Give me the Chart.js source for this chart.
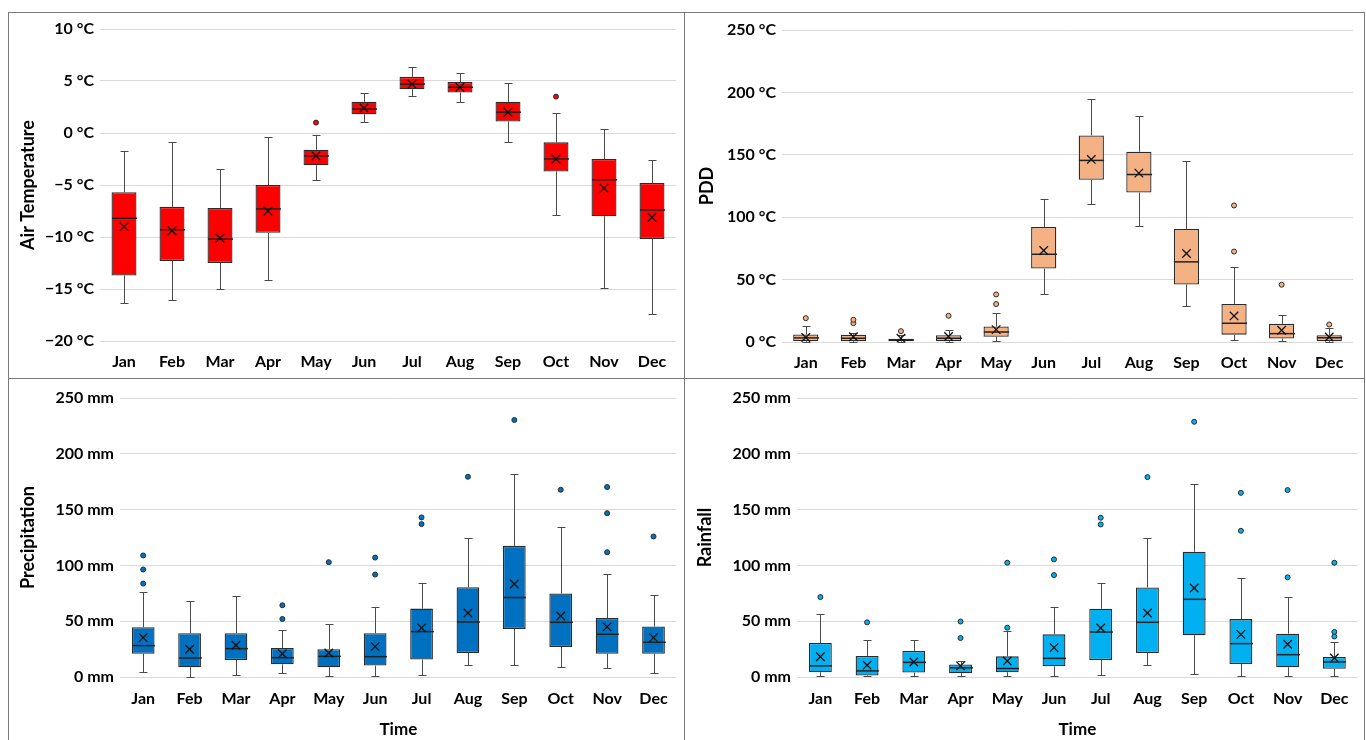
<!DOCTYPE html>
<html>
<head>
<meta charset="utf-8">
<script src="https://cdn.jsdelivr.net/npm/chart.js@4.4.1/dist/chart.umd.min.js"></script>
<style>
    body { margin: 0; background: #fff; width: 1366px; height: 740px; overflow: hidden; position: relative; }
    canvas { position: absolute; }
    .frame { position: absolute; left: 8px; top: 12px; width: 1357px; height: 740px; border: 1px solid #7a7a7a; box-sizing: border-box; }
    .vline { position: absolute; left: 684px; top: 12px; width: 1px; height: 728px; background: #7a7a7a; }
    .hline { position: absolute; left: 8px; top: 378px; width: 1357px; height: 1px; background: #7a7a7a; }
</style>
</head>
<body>
<div class="frame"></div>
<div class="vline"></div>
<div class="hline"></div>
<canvas id="temp-chart" width="675" height="365" style="left:9px;top:13px"></canvas>
<canvas id="pdd-chart" width="679" height="365" style="left:686px;top:13px"></canvas>
<canvas id="precip-chart" width="675" height="361" style="left:9px;top:379px"></canvas>
<canvas id="rain-chart" width="679" height="361" style="left:686px;top:379px"></canvas>
<script>
const months = ['Jan', 'Feb', 'Mar', 'Apr', 'May', 'Jun', 'Jul', 'Aug', 'Sep', 'Oct', 'Nov', 'Dec'];

// Air temperature (°C)
const tempMin    = [-16.3, -16.1, -15.0, -14.1, -4.5, 1.1, 3.6, 3.0, -0.9, -7.9, -14.9, -17.4];
const tempQ1     = [-13.7, -12.3, -12.5, -9.6, -3.1, 1.8, 4.2, 3.9, 1.1, -3.7, -8.0, -10.2];
const tempMedian = [-8.2, -9.3, -10.2, -7.3, -2.2, 2.3, 4.7, 4.4, 2.0, -2.5, -4.5, -7.4];
const tempQ3     = [-5.7, -7.1, -7.2, -5.0, -1.6, 3.0, 5.4, 4.9, 3.0, -0.9, -2.5, -4.8];
const tempMax    = [-1.7, -0.9, -3.5, -0.4, -0.2, 3.8, 6.3, 5.8, 4.8, 1.9, 0.4, -2.6];
const tempMean   = [-9.0, -9.4, -10.1, -7.5, -2.2, 2.4, 4.7, 4.4, 2.0, -2.5, -5.3, -8.1];
const tempOutliers = [[], [], [], [], [1.0], [], [], [], [], [3.5], [], []];

// Positive degree days (°C)
const pddMin    = [0, 0, 0, 0, 0.5, 38.8, 110.4, 92.8, 28.6, 1.3, 0.6, 0];
const pddQ1     = [0.6, 0.6, 0.6, 0.6, 4.2, 58.8, 130.0, 119.8, 46.0, 5.9, 2.8, 0.6];
const pddMedian = [3.3, 3.0, 1.6, 3.0, 8.0, 70.3, 145.5, 134.2, 64.2, 15.0, 6.7, 3.4];
const pddQ3     = [6.0, 5.8, 2.6, 5.5, 12.4, 92.2, 165.5, 152.4, 90.6, 30.5, 14.6, 5.5];
const pddMax    = [12.7, 7.4, 6.0, 9.8, 23.4, 114.7, 194.7, 181.0, 145.2, 60.2, 21.5, 11.0];
const pddMean   = [3.6, 4.2, 3.0, 4.4, 9.9, 73.3, 146.3, 135.3, 70.9, 20.9, 9.4, 4.0];
const pddOutliers = [[19.1], [15.1, 17.8], [8.7], [21.0], [30.4, 38.1], [], [], [], [], [72.5, 109.4], [45.9], [14.0]];

// Precipitation (mm)
const precipMin    = [4.5, 0, 1.5, 3.9, 0.9, 0.9, 1.5, 11.1, 10.5, 9.0, 8.1, 3.6];
const precipQ1     = [20.9, 8.7, 15.3, 11.4, 8.7, 10.2, 15.6, 21.5, 43.1, 26.9, 20.9, 20.9];
const precipMedian = [28.1, 17.0, 25.4, 17.3, 18.5, 18.2, 40.7, 49.3, 71.2, 49.0, 38.3, 31.1];
const precipQ3     = [44.6, 39.2, 39.2, 26.0, 24.8, 39.2, 61.3, 80.4, 117.5, 74.8, 52.9, 45.2];
const precipMax    = [76.6, 68.2, 73.0, 42.5, 47.5, 62.8, 84.3, 124.4, 182.1, 134.0, 92.7, 73.9];
const precipMean   = [35.3, 24.8, 28.4, 20.9, 21.5, 27.2, 44.0, 57.4, 83.4, 54.7, 44.9, 35.3];
const precipOutliers = [[83.7, 96.3, 108.9], [], [], [52.0, 64.3], [102.9], [91.8, 107.0], [137.0, 143.0], [179.4], [230.3], [167.8], [111.8, 146.8, 170.2], [125.9]];

// Rainfall (mm)
const rainMin    = [0.6, 0.6, 0.6, 0.6, 0.6, 0.6, 1.5, 11.0, 2.7, 0.6, 0.6, 0.6];
const rainQ1     = [4.3, 1.3, 4.0, 3.4, 4.3, 9.6, 15.2, 21.5, 37.3, 11.6, 8.7, 7.3];
const rainMedian = [10.0, 5.5, 13.1, 8.2, 7.6, 16.7, 40.3, 49.0, 69.6, 29.9, 20.0, 13.5];
const rainQ3     = [30.4, 18.8, 23.4, 11.3, 18.5, 38.2, 61.2, 80.3, 112.2, 51.9, 38.8, 17.9];
const rainMax    = [56.7, 33.6, 33.0, 14.0, 41.6, 62.7, 84.2, 124.2, 172.5, 88.7, 71.6, 31.5];
const rainMean   = [18.2, 10.6, 13.4, 10.0, 14.3, 26.3, 43.9, 57.3, 79.7, 38.2, 29.3, 17.0];
const rainOutliers = [[71.6], [49.0], [], [34.9, 49.7], [44.2, 102.4], [91.3, 105.4], [136.7, 142.7], [179.1], [228.7], [131.0, 165.0], [89.3, 167.5], [36.3, 40.4, 102.4]];

Chart.defaults.font.family = 'Lato, "Open Sans", sans-serif';
Chart.defaults.font.size = 16;
Chart.defaults.font.weight = 'bold';
Chart.defaults.color = '#000';

// Whiskers, caps and median line drawn over the box dataset
const whiskerPlugin = {
    id: 'whiskers',
    afterDatasetDraw(chart, args, opts) {
        if (args.index !== 0 || !opts.min) return;
        const ctx = chart.ctx;
        const x = chart.scales.x;
        const y = chart.scales.y;
        const meta = chart.getDatasetMeta(0);
        ctx.save();
        const seg = (x1, y1, x2, y2) => {
            ctx.beginPath();
            ctx.moveTo(x1, y1);
            ctx.lineTo(x2, y2);
            ctx.stroke();
        };
        opts.min.forEach((lo, i) => {
            const cx = Math.round(x.getPixelForValue(i)) + 0.5;
            const half = meta.data[i].width / 2;
            const yLo = Math.round(y.getPixelForValue(lo)) + 0.5;
            const yHi = Math.round(y.getPixelForValue(opts.max[i])) + 0.5;
            const yQ1 = y.getPixelForValue(opts.q1[i]);
            const yQ3 = y.getPixelForValue(opts.q3[i]);
            const yMed = y.getPixelForValue(opts.median[i]);
            ctx.strokeStyle = opts.color;
            ctx.lineWidth = 1;
            seg(cx, yQ3, cx, yHi);
            seg(cx, yQ1, cx, yLo);
            seg(cx - 4, yHi, cx + 4, yHi);
            seg(cx - 4, yLo, cx + 4, yLo);
            ctx.strokeStyle = '#222';
            ctx.lineWidth = 1.5;
            seg(cx - half, yMed, cx + half, yMed);
        });
        ctx.restore();
    }
};

function boxChart(id, s) {
    const ctx = document.getElementById(id).getContext('2d');
    const outlierPoints = [];
    s.outliers.forEach((list, i) => {
        list.forEach(v => outlierPoints.push({ x: months[i], y: v }));
    });

    const config = {
        type: 'bar',
        data: {
            labels: months,
            datasets: [{
                data: s.q1.map((v, i) => [v, s.q3[i]]),
                backgroundColor: s.fill,
                borderColor: '#2b2b2b',
                borderWidth: 1.3,
                borderSkipped: false,
                barPercentage: s.boxWidth,
                categoryPercentage: 1,
                order: 3
            }, {
                type: 'line',
                data: s.mean,
                showLine: false,
                pointStyle: 'crossRot',
                pointRadius: 6,
                borderColor: '#111',
                borderWidth: 1.3,
                order: 1
            }, {
                type: 'line',
                data: outlierPoints,
                showLine: false,
                pointStyle: 'circle',
                pointRadius: 2.5,
                backgroundColor: s.fill,
                borderColor: '#2b2b2b',
                borderWidth: 1,
                order: 2
            }]
        },
        options: {
            responsive: false,
            animation: false,
            events: [],
            layout: { padding: s.padding },
            plugins: {
                legend: { display: false },
                tooltip: { enabled: false },
                whiskers: {
                    min: s.min, q1: s.q1, median: s.median, q3: s.q3, max: s.max,
                    color: '#4a4a4a'
                }
            },
            scales: {
                x: {
                    grid: { display: false, drawTicks: false },
                    border: { display: false },
                    ticks: { padding: s.xPad, maxRotation: 0 },
                    title: {
                        display: !!s.xTitle,
                        text: s.xTitle,
                        font: { size: 17 },
                        padding: { top: 0, bottom: 0 }
                    },
                    afterFit: scale => { scale.height = s.xHeight; }
                },
                y: {
                    min: s.yMin,
                    max: s.yMax,
                    grid: { color: '#d9d9d9', drawTicks: false },
                    border: { display: false },
                    ticks: {
                        stepSize: s.step,
                        padding: 6,
                        callback: v => (v < 0 ? '\u2212' + Math.abs(v) : v) + s.unit
                    },
                    title: {
                        display: true,
                        text: s.yTitle,
                        font: { size: 18 },
                        padding: { top: 0, bottom: 0 }
                    },
                    afterFit: scale => { scale.width = s.yWidth; }
                }
            }
        },
        plugins: [whiskerPlugin]
    };

    new Chart(ctx, config);
}

boxChart('temp-chart', {
    min: tempMin, q1: tempQ1, median: tempMedian, q3: tempQ3, max: tempMax,
    mean: tempMean, outliers: tempOutliers,
    fill: '#ff0000', boxWidth: 0.52,
    yMin: -20, yMax: 10, step: 5, unit: ' °C', yTitle: 'Air Temperature',
    padding: { left: 8, right: 8, top: 16, bottom: 0 },
    yWidth: 83, xHeight: 37, xPad: 11
});

boxChart('pdd-chart', {
    min: pddMin, q1: pddQ1, median: pddMedian, q3: pddQ3, max: pddMax,
    mean: pddMean, outliers: pddOutliers,
    fill: '#f4b183', boxWidth: 0.53,
    yMin: 0, yMax: 250, step: 50, unit: ' °C', yTitle: 'PDD',
    padding: { left: 10, right: 12, top: 17, bottom: 0 },
    yWidth: 86, xHeight: 36, xPad: 11
});

boxChart('precip-chart', {
    min: precipMin, q1: precipQ1, median: precipMedian, q3: precipQ3, max: precipMax,
    mean: precipMean, outliers: precipOutliers,
    fill: '#0070c0', boxWidth: 0.49,
    yMin: 0, yMax: 250, step: 50, unit: ' mm', yTitle: 'Precipitation', xTitle: 'Time',
    padding: { left: 8, right: 7, top: 19, bottom: 0 },
    yWidth: 103, xHeight: 63, xPad: 12
});

boxChart('rain-chart', {
    min: rainMin, q1: rainQ1, median: rainMedian, q3: rainQ3, max: rainMax,
    mean: rainMean, outliers: rainOutliers,
    fill: '#00b0f0', boxWidth: 0.49,
    yMin: 0, yMax: 250, step: 50, unit: ' mm', yTitle: 'Rainfall', xTitle: 'Time',
    padding: { left: 8, right: 7, top: 19, bottom: 0 },
    yWidth: 103, xHeight: 63, xPad: 12
});
</script>
</body>
</html>
